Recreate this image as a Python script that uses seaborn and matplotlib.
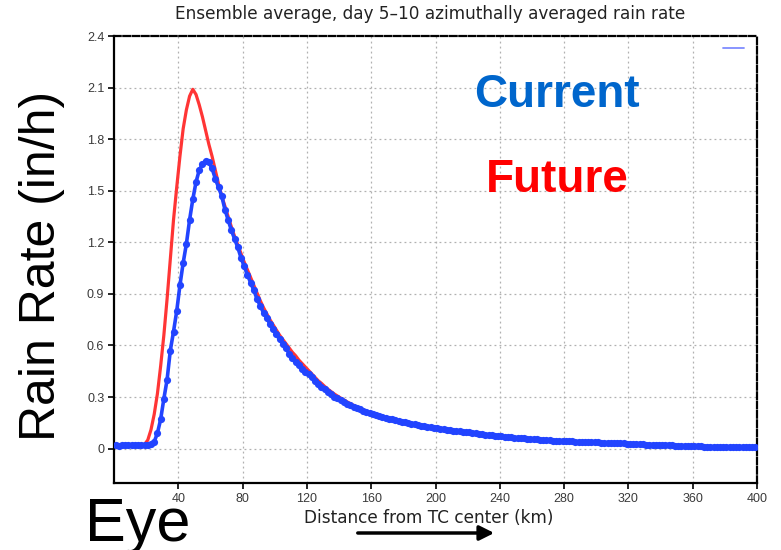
import numpy as np
import pandas as pd
import matplotlib
matplotlib.use("Agg")
import matplotlib.pyplot as plt
from matplotlib.lines import Line2D
import seaborn as sns

# distance from TC center (km), 2 km bins
distance_km = np.arange(1, 400, 2)

# Current climate rain rate (in/h)
current_rate = [
    0.020, 0.018, 0.020, 0.020, 0.020, 0.021, 0.020, 0.022, 0.022, 0.022,
    0.023, 0.025, 0.040, 0.090, 0.170, 0.290, 0.400, 0.570, 0.680, 0.800,
    0.950, 1.080, 1.190, 1.330, 1.450, 1.550, 1.620, 1.655, 1.675, 1.665,
    1.630, 1.570, 1.520, 1.470, 1.390, 1.330, 1.270, 1.220, 1.170, 1.110,
    1.060, 1.010, 0.965, 0.920, 0.870, 0.830, 0.790, 0.760, 0.725, 0.695,
    0.665, 0.635, 0.610, 0.585, 0.550, 0.530, 0.505, 0.485, 0.465, 0.445,
    0.435, 0.415, 0.395, 0.375, 0.360, 0.345, 0.330, 0.315, 0.303, 0.292,
    0.282, 0.272, 0.262, 0.253, 0.245, 0.237, 0.228, 0.220, 0.212, 0.205,
    0.200, 0.195, 0.190, 0.185, 0.180, 0.175, 0.170, 0.165, 0.160, 0.155,
    0.152, 0.148, 0.145, 0.141, 0.138, 0.134, 0.131, 0.128, 0.125, 0.122,
    0.119, 0.116, 0.113, 0.110, 0.108, 0.105, 0.103, 0.100, 0.098, 0.096,
    0.094, 0.092, 0.089, 0.087, 0.084, 0.082, 0.080, 0.078, 0.075, 0.073,
    0.071, 0.070, 0.068, 0.066, 0.064, 0.062, 0.061, 0.059, 0.057, 0.056,
    0.055, 0.054, 0.052, 0.051, 0.050, 0.049, 0.047, 0.046, 0.045, 0.044,
    0.043, 0.042, 0.042, 0.041, 0.040, 0.039, 0.038, 0.038, 0.037, 0.036,
    0.036, 0.035, 0.034, 0.034, 0.033, 0.032, 0.031, 0.030, 0.030, 0.029,
    0.028, 0.027, 0.027, 0.026, 0.025, 0.024, 0.024, 0.023, 0.022, 0.021,
    0.021, 0.020, 0.019, 0.019, 0.018, 0.017, 0.016, 0.016, 0.015, 0.014,
    0.014, 0.013, 0.013, 0.012, 0.012, 0.011, 0.011, 0.011, 0.010, 0.010,
    0.010, 0.010, 0.009, 0.009, 0.009, 0.009, 0.008, 0.008, 0.008, 0.008,
]

# Future climate rain rate (in/h)
future_rate = [
    0.020, 0.020, 0.020, 0.020, 0.020, 0.020, 0.020, 0.022, 0.022, 0.025,
    0.050, 0.110, 0.200, 0.320, 0.480, 0.660, 0.870, 1.100, 1.330, 1.520,
    1.700, 1.860, 1.970, 2.050, 2.090, 2.060, 2.000, 1.930, 1.850, 1.770,
    1.700, 1.620, 1.540, 1.470, 1.410, 1.350, 1.290, 1.235, 1.185, 1.135,
    1.085, 1.040, 0.995, 0.950, 0.905, 0.860, 0.820, 0.785, 0.750, 0.720,
    0.690, 0.660, 0.635, 0.610, 0.585, 0.560, 0.540, 0.515, 0.495, 0.475,
    0.455, 0.435, 0.415, 0.395, 0.380, 0.362, 0.346, 0.332, 0.318, 0.306,
    0.294, 0.283, 0.272, 0.262, 0.252, 0.243, 0.234, 0.225, 0.217, 0.209,
    0.202, 0.196, 0.190, 0.184, 0.178, 0.172, 0.166, 0.161, 0.156, 0.151,
    0.147, 0.143, 0.139, 0.135, 0.131, 0.127, 0.123, 0.120, 0.117, 0.114,
    0.111, 0.108, 0.105, 0.102, 0.100, 0.097, 0.095, 0.093, 0.091, 0.089,
    0.087, 0.085, 0.083, 0.081, 0.079, 0.077, 0.075, 0.073, 0.071, 0.070,
    0.069, 0.068, 0.066, 0.064, 0.062, 0.061, 0.060, 0.058, 0.057, 0.055,
    0.054, 0.053, 0.052, 0.050, 0.049, 0.048, 0.047, 0.046, 0.045, 0.044,
    0.043, 0.042, 0.041, 0.040, 0.040, 0.039, 0.038, 0.037, 0.037, 0.036,
    0.035, 0.035, 0.034, 0.033, 0.032, 0.032, 0.031, 0.030, 0.029, 0.029,
    0.028, 0.027, 0.026, 0.026, 0.025, 0.024, 0.023, 0.023, 0.022, 0.021,
    0.020, 0.020, 0.019, 0.018, 0.018, 0.017, 0.016, 0.016, 0.015, 0.014,
    0.014, 0.013, 0.013, 0.012, 0.012, 0.011, 0.011, 0.011, 0.010, 0.010,
    0.010, 0.010, 0.009, 0.009, 0.009, 0.009, 0.008, 0.008, 0.008, 0.008,
]

x_ticks = [40, 80, 120, 160, 200, 240, 280, 320, 360, 400]
y_ticks = [0, 0.3, 0.6, 0.9, 1.2, 1.5, 1.8, 2.1, 2.4]
y_tick_labels = ["0", "0.3", "0.6", "0.9", "1.2", "1.5", "1.8", "2.1", "2.4"]

df = pd.DataFrame({"dist": distance_km, "current": current_rate, "future": future_rate})

sns.set_style("white")

fig = plt.figure(figsize=(7.81, 5.5), dpi=100)
ax = fig.add_axes([0.146, 0.1218, 0.8233, 0.8127])

# grid (GrADS style dotted)
for xv in x_ticks[:-1]:
    ax.axvline(xv, color="#b0b0b0", lw=0.9, ls=(0, (1.5, 2.5)), zorder=0)
for yv in y_ticks[:-1]:
    ax.axhline(yv, color="#b0b0b0", lw=0.9, ls=(0, (1.5, 2.5)), zorder=0)

sns.lineplot(data=df, x="dist", y="future", ax=ax, color="#ff3535", lw=2.3,
             estimator=None, zorder=2)
sns.lineplot(data=df, x="dist", y="current", ax=ax, color="#2244ff", lw=2.6,
             marker="o", markersize=5.2, markeredgewidth=0, estimator=None, zorder=3)

ax.set_xlim(0, 400)
ax.set_ylim(-0.2, 2.4)
ax.set_xticks(x_ticks)
ax.set_yticks(y_ticks)
ax.set_yticklabels(y_tick_labels)
ax.set_xlabel("")
ax.set_ylabel("")
ax.tick_params(axis="both", direction="out", length=4, width=1.2, color="black",
               labelsize=9, labelcolor="#3a3a3a", pad=3, bottom=True, left=True)
for lab in ax.get_xticklabels() + ax.get_yticklabels():
    lab.set_family("Liberation Sans")

for side in ["left", "bottom"]:
    ax.spines[side].set_color("black")
    ax.spines[side].set_linewidth(1.6)
for side in ["top", "right"]:
    ax.spines[side].set_color("black")
    ax.spines[side].set_linewidth(1.6)
    ax.spines[side].set_linestyle((0, (3, 1.2)))

# small legend remnant in the corner
ax.add_line(Line2D([0.947, 0.980], [0.9725, 0.9725], transform=ax.transAxes,
                   color="#7f8cff", lw=1.3))

fig.text(0.551, 0.9745, "Ensemble average, day 5\u201310 azimuthally averaged rain rate",
         ha="center", va="center", fontsize=12.2, family="DejaVu Sans", color="#222222")
fig.text(0.549, 0.058, "Distance from TC center (km)", ha="center", va="center",
         fontsize=12.2, family="DejaVu Sans", color="#222222")

fig.text(0.054, 0.516, "Rain Rate (in/h)", rotation=90, ha="center", va="center",
         fontsize=36, family="Liberation Sans", color="black")
fig.text(0.109, 0.0164, "Eye", ha="left", va="baseline", fontsize=44,
         family="Liberation Sans", color="black")

fig.text(0.713, 1 - 106.7 / 550, "Current", ha="center", va="baseline", fontsize=33,
         fontweight="bold", family="Liberation Sans", color="#0066cc")
fig.text(0.714, 1 - 191.7 / 550, "Future", ha="center", va="baseline", fontsize=33,
         fontweight="bold", family="Liberation Sans", color="#ff0000")

ax.annotate("", xy=(497 / 781, 1 - 533 / 550), xytext=(355 / 781, 1 - 533 / 550),
            xycoords="figure fraction", textcoords="figure fraction",
            arrowprops=dict(arrowstyle="-|>", lw=2.5, color="black", mutation_scale=22))

fig.savefig("out.png", dpi=100)
